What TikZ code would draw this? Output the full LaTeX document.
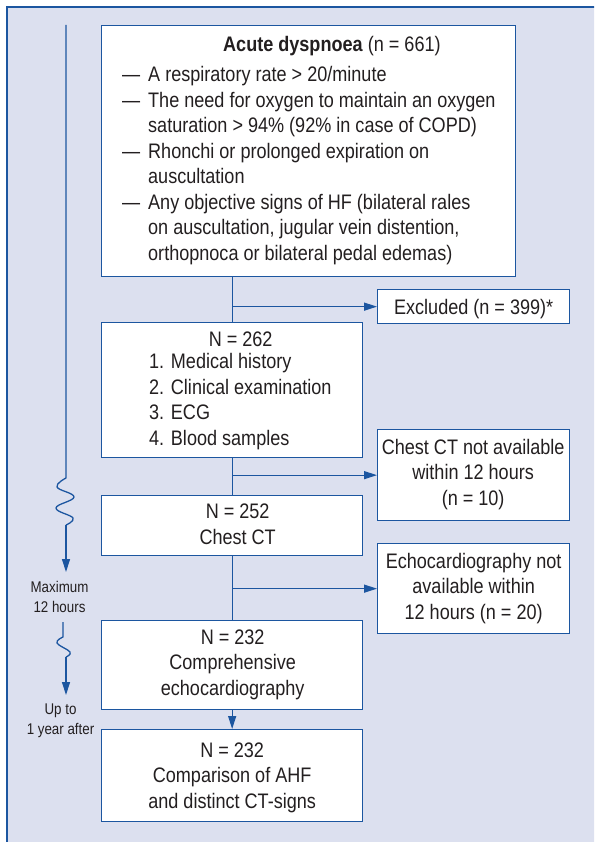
\documentclass[tikz,border=0pt]{standalone}
\usepackage{fontspec}
\setmainfont{Liberation Sans}[FakeStretch=0.86]
\usetikzlibrary{calc,arrows.meta}
\definecolor{flowblue}{RGB}{28,86,160}
\definecolor{flowbg}{RGB}{220,224,239}
\definecolor{flowtext}{RGB}{35,31,32}
\tikzstyle{box}=[rectangle, fill=white, draw=flowblue, line width=1.3pt, inner sep=0pt, anchor=north west]
\tikzstyle{annot}=[align=center, inner sep=0pt, text=flowtext, font=\fontsize{21}{25.5}\selectfont]
\tikzstyle{note}=[align=center, inner sep=0pt, text=flowtext, font=\fontsize{15.5}{20}\selectfont]
\tikzstyle{link}=[draw=flowblue, line width=1.3pt]
\tikzstyle{arr}=[link, -{Triangle[length=13pt,width=8pt]}]
\newcommand{\dashline}[1]{\makebox[26pt][l]{—}#1}
\newcommand{\hangline}[1]{\hspace*{26pt}#1}

\begin{document}
\begin{tikzpicture}[x=1pt,y=-1pt]
	\useasboundingbox (0,0) rectangle (594,842);
	\clip (0,0) rectangle (594,842);
	\fill[flowbg] (7,7) rectangle (610,860);
	\draw[link] (610,7) -- (7,7) -- (7,860);

	% main column
	\node[box, minimum width=414pt, minimum height=251pt](acute) at (101,25){};
	\node[box, minimum width=261pt, minimum height=135pt](count) at (101,322){};
	\node[box, minimum width=261pt, minimum height=60pt](chest) at (101,495){};
	\node[box, minimum width=261pt, minimum height=89pt](echo) at (101,620){};
	\node[box, minimum width=261pt, minimum height=92pt](final) at (101,729){};
	% side column
	\node[box, minimum width=192pt, minimum height=34pt](excluded) at (377,289){};
	\node[box, minimum width=192pt, minimum height=91pt](noct) at (377,429){};
	\node[box, minimum width=192pt, minimum height=90pt](noecho) at (377,543){};

	% texts, placed by the baseline of their last line
	\node[annot, anchor=base west](acutetitle) at ($(acute.north west)+(122,27)$) {\textbf{Acute dyspnoea} (n = 661)};
	\node[annot, anchor=base west, align=left](acutelist) at ($(acute.north west)+(21,235)$) {%
		\dashline{A respiratory rate > 20/minute}\\
		\dashline{The need for oxygen to maintain an oxygen}\\
		\hangline{saturation > 94\% (92\% in case of COPD)}\\
		\dashline{Rhonchi or prolonged expiration on}\\
		\hangline{auscultation}\\
		\dashline{Any objective signs of HF (bilateral rales}\\
		\hangline{on auscultation, jugular vein distention,}\\
		\hangline{orthopnoca or bilateral pedal edemas)}};
	\node[annot, anchor=base](countn) at ($(count.north)+(8.5,24)$) {N = 262};
	\node[annot, anchor=base west, align=left](countlist) at ($(count.north west)+(48,123)$) {1. Medical history\\2. Clinical examination\\3. ECG\\4. Blood samples};
	\node[annot, anchor=base](chesttext) at ($(chest.north)+(5.5,49)$) {N = 252\\Chest CT};
	\node[annot, anchor=base](echotext) at ($(echo.north)+(0.5,75)$) {N = 232\\Comprehensive\\echocardiography};
	\node[annot, anchor=base](finaltext) at ($(final.north)+(0,79)$) {N = 232\\Comparison of AHF\\and distinct CT-signs};
	\node[annot, anchor=base](excludedtext) at ($(excluded.north)+(0,25)$) {Excluded (n = 399)*};
	\node[annot, anchor=base](nocttext) at ($(noct.north)+(-0.5,76)$) {Chest CT not available\\within 12 hours\\(n = 10)};
	\node[annot, anchor=base](noechotext) at ($(noecho.north)+(0,76)$) {Echocardiography not\\available within\\12 hours (n = 20)};

	% trunk and exclusions
	\draw[link] (acute.south -| count.north) -- (count.north);
	\draw[arr] (count.north |- excluded.west) -- (excluded.west);
	\draw[link] (count.south) -- (chest.north);
	\draw[arr] (count.south |- noct.west) -- (noct.west);
	\draw[link] (chest.south) -- (echo.north);
	\draw[arr] (chest.south |- noecho.west) -- (noecho.west);
	\draw[arr] (echo.south) -- (final.north);

	% time line
	\node[note, anchor=base](maxnote) at (59.5,612) {Maximum\\12 hours};
	\node[note, anchor=base](yearnote) at (60.5,734) {Up to\\1 year after};
	\coordinate (timetop) at (66,25);
	\coordinate (wigglea) at (66,478);
	\coordinate (wiggleb) at (66,525);
	\coordinate (maxtip) at (66,572);
	\coordinate (yeartop) at (63,622);
	\coordinate (wigglec) at (63,637);
	\coordinate (wiggled) at (66,657);
	\coordinate (yeartip) at (66,695);
	\draw[link] (timetop) -- (wigglea) -- plot[smooth, tension=0.7] coordinates {(wigglea) (57,487) (74,497) (56,508) (73,518) (wiggleb)};
	\draw[arr] (wiggleb) -- (maxtip);
	\draw[link] (yeartop) -- (wigglec) -- plot[smooth, tension=0.7] coordinates {(wigglec) (57,643) (70,652) (wiggled)};
	\draw[arr] (wiggled) -- (yeartip);
\end{tikzpicture}
\end{document}
